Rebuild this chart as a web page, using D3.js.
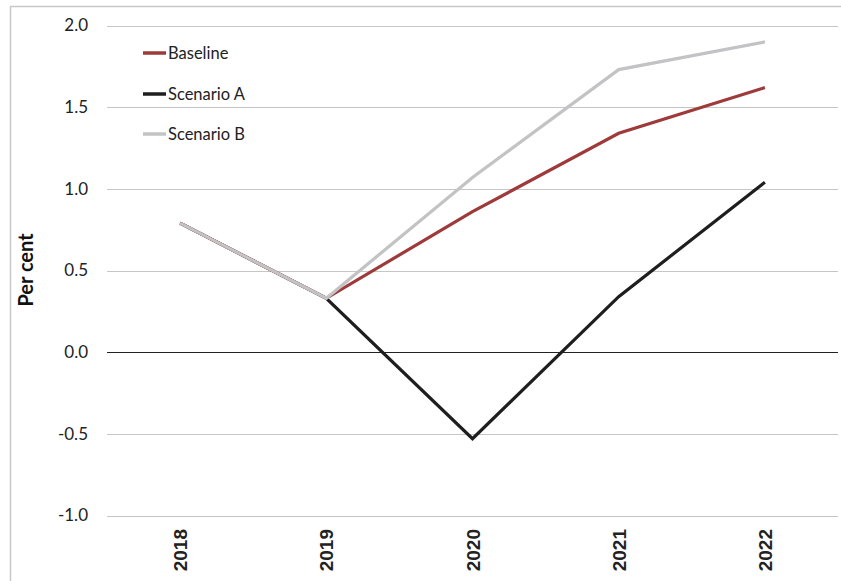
<!DOCTYPE html>
<html><head><meta charset="utf-8">
<script src="https://cdn.jsdelivr.net/npm/d3@7"></script>
<style>body{margin:0;background:#fff;}svg{display:block;}</style>
</head><body>
<svg id="c" width="841" height="581"></svg>
<script>
const years = ["2018","2019","2020","2021","2022"];
const baseline  = [0.79, 0.33, 0.86, 1.34, 1.62];
const scenarioA = [0.79, 0.33, -0.53, 0.34, 1.04];
const scenarioB = [0.79, 0.33, 1.07, 1.73, 1.90];
const yTicks = [-1.0, -0.5, 0.0, 0.5, 1.0, 1.5, 2.0];
const seriesNames = ["Baseline", "Scenario A", "Scenario B"];
const seriesColors = ["#9e3a3a", "#1e1e1e", "#c3c3c5"];

const svg = d3.select("#c");
const plotL = 107, plotR = 838, plotT = 25.5, plotB = 515.5;
const x = d3.scaleBand().domain(years).range([plotL, plotR]);
const y = d3.scaleLinear().domain([-1, 2]).range([plotB, plotT]);

// frame
svg.append("path").attr("d", `M10.5,581 V6.5 H841`).attr("fill","none").attr("stroke","#c8c8c8").attr("stroke-width",1.5);

// gridlines
svg.append("g").selectAll("line").data(yTicks.filter(d => d !== 0)).join("line")
  .attr("x1", plotL).attr("x2", plotR)
  .attr("y1", d => Math.round(y(d)) + 0.5).attr("y2", d => Math.round(y(d)) + 0.5)
  .attr("stroke", "#c6c6c6").attr("stroke-width", 1.2);
svg.append("line").attr("x1", plotL).attr("x2", plotR)
  .attr("y1", Math.round(y(0)) + 0.5).attr("y2", Math.round(y(0)) + 0.5)
  .attr("stroke", "#222").attr("stroke-width", 1);

// y tick labels
const fmt = d => d3.format(".1f")(d).replace("\u2212", "-");
svg.append("g").selectAll("text").data(yTicks).join("text")
  .attr("x", 88).attr("y", d => y(d)).attr("dy", "0.35em")
  .attr("text-anchor", "end")
  .style("font-family", "Lato, 'Open Sans', sans-serif").style("font-size", "17px").attr("fill", "#222")
  .text(fmt);

// x tick labels
svg.append("g").selectAll("text").data(years).join("text")
  .attr("transform", d => `translate(${x(d) + x.bandwidth()/2 + 7},529) rotate(-90)`)
  .attr("text-anchor", "end")
  .style("font-family", "'Liberation Sans', Arial, sans-serif").style("font-weight", "bold").style("font-size", "19px").attr("fill", "#222")
  .text(d => d);

// y axis title
svg.append("text").attr("transform", "translate(33,270) rotate(-90)")
  .attr("text-anchor", "middle")
  .style("font-family", "Lato, 'Open Sans', sans-serif").style("font-weight", "bold").style("font-size", "20px").attr("fill", "#111")
  .text("Per cent");

// lines
const line = d3.line().x((d, i) => x(years[i]) + x.bandwidth()/2).y(d => y(d));
const data = [scenarioA, baseline, scenarioB];
const cols = [seriesColors[1], seriesColors[0], seriesColors[2]];
data.forEach((s, k) => {
  svg.append("path").datum(s).attr("d", line).attr("fill", "none")
    .attr("stroke", cols[k]).attr("stroke-width", 3.2).attr("stroke-linejoin", "miter");
});

// legend
const legY = [53, 94, 134];
seriesNames.forEach((n, i) => {
  svg.append("line").attr("x1", 143).attr("x2", 166).attr("y1", legY[i]).attr("y2", legY[i])
    .attr("stroke", seriesColors[i]).attr("stroke-width", 3.5);
  svg.append("text").attr("x", 168).attr("y", legY[i]).attr("dy", "0.35em")
    .style("font-family", "Lato, 'Open Sans', sans-serif").style("font-size", "16.5px").attr("fill", "#222")
    .text(n);
});
</script>
</body></html>
